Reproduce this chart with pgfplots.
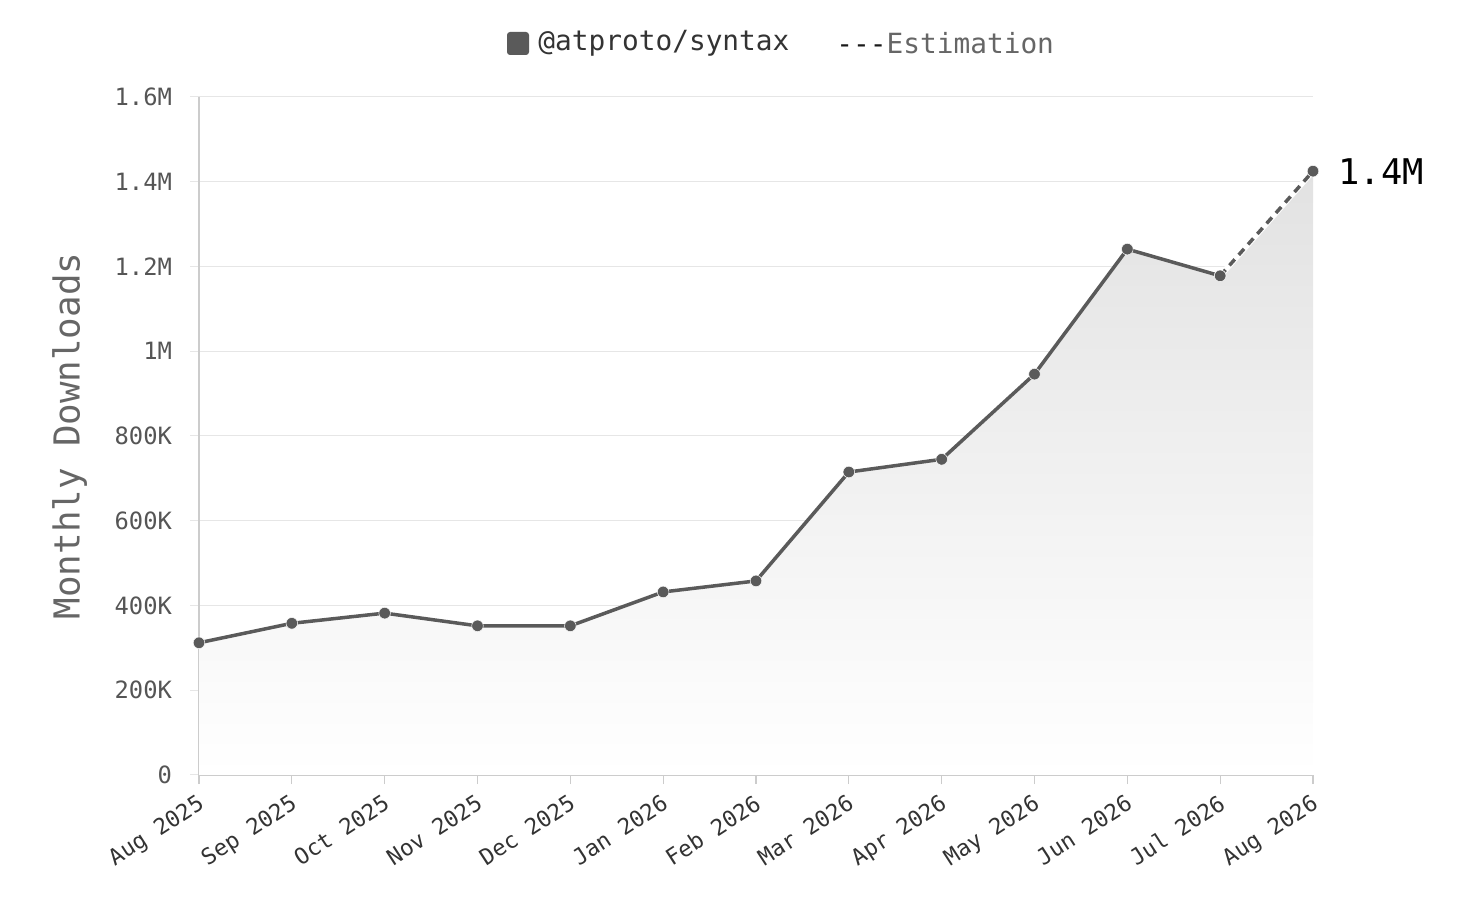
\documentclass[border=0pt]{standalone}
\usepackage{fontspec}
\setmainfont{DejaVu Sans Mono}
\usepackage{pgfplots}
\pgfplotsset{compat=1.18}
\definecolor{lineC}{HTML}{5A5A5A}
\definecolor{gridC}{HTML}{E6E6E6}
\definecolor{axisC}{HTML}{CCCCCC}
\definecolor{tickT}{HTML}{555555}
\definecolor{labT}{HTML}{666666}
\definecolor{fillTop}{HTML}{E2E2E2}
\begin{document}
\begin{tikzpicture}
\useasboundingbox (0,0) rectangle (729pt,453pt);
% legend
\fill[lineC, rounded corners=1.5pt] (253.5pt,425.5pt) rectangle (264.5pt,437pt);
\node[anchor=west, inner sep=0pt, font=\fontsize{13.9}{16}\selectfont, text=black!80] at (269pt,431.5pt) {@atproto/syntax};
\node[anchor=west, inner sep=0pt, font=\fontsize{13.9}{16}\selectfont] at (418pt,431.5pt) {\textcolor{black!90}{-\kern0pt-\kern0pt-}\textcolor{labT}{Estimation}};
\begin{axis}[
  at={(99.5pt,65.5pt)}, anchor=south west,
  width=557pt, height=339pt, scale only axis,
  xmin=0, xmax=12, ymin=0, ymax=1600000,
  clip=false,
  axis x line*=bottom, axis y line*=left,
  axis line style={draw=axisC, line width=0.6pt, -},
  xtick={0,...,12},
  xticklabels={Aug 2025,Sep 2025,Oct 2025,Nov 2025,Dec 2025,Jan 2026,Feb 2026,Mar 2026,Apr 2026,May 2026,Jun 2026,Jul 2026,Aug 2026},
  ytick={0,200000,400000,600000,800000,1000000,1200000,1400000,1600000},
  yticklabels={0,200K,400K,600K,800K,1M,1.2M,1.4M,1.6M},
  scaled y ticks=false,
  tick align=outside,
  major tick length=4.5pt,
  xtick style={draw=axisC, line width=0.6pt},
  ytick style={draw=gridC, line width=0.5pt},
  ymajorgrids,
  major grid style={draw=gridC, line width=0.5pt},
  x tick label style={rotate=33, anchor=north east, font=\fontsize{11.2}{13}\selectfont, text=black!80, inner sep=1pt, yshift=-2pt, xshift=-2.5pt},
  y tick label style={font=\fontsize{11.9}{13}\selectfont, text=tickT, xshift=-5.5pt},
  ylabel={Monthly Downloads},
  ylabel style={at={(axis description cs:-0.116,0.5)}, anchor=center, rotate=0, font=\fontsize{17.9}{20}\selectfont, text=labT},
]
\addplot[draw=none, shade, top color=fillTop, bottom color=white, forget plot] coordinates {
(0,312000) (1,358000) (2,382000) (3,352000) (4,352000) (5,432000) (6,458000) (7,715000) (8,745000) (9,946000) (10,1241000) (11,1178000) (12,1425000)
} \closedcycle;
\addplot[draw=lineC, line width=1.75pt, mark=*, mark size=2.9pt, mark options={fill=lineC, draw=white, line width=0.25pt}] coordinates {
(0,312000) (1,358000) (2,382000) (3,352000) (4,352000) (5,432000) (6,458000) (7,715000) (8,745000) (9,946000) (10,1241000) (11,1178000)
};
\addplot[draw=white, line width=2.8pt] coordinates {(11,1178000) (12,1425000)};
\addplot[draw=lineC, line width=1.75pt, dash pattern=on 4pt off 3pt] coordinates {(11,1178000) (12,1425000)};
\addplot[draw=none, mark=*, mark size=2.9pt, mark options={fill=lineC, draw=white, line width=0.25pt}] coordinates {(11,1178000) (12,1425000)};
\node[anchor=west, inner sep=0pt, font=\fontsize{17.7}{20}\selectfont, text=black] at (axis cs:12,1425000) [xshift=12.5pt] {1.4M};
\end{axis}
\end{tikzpicture}
\end{document}
